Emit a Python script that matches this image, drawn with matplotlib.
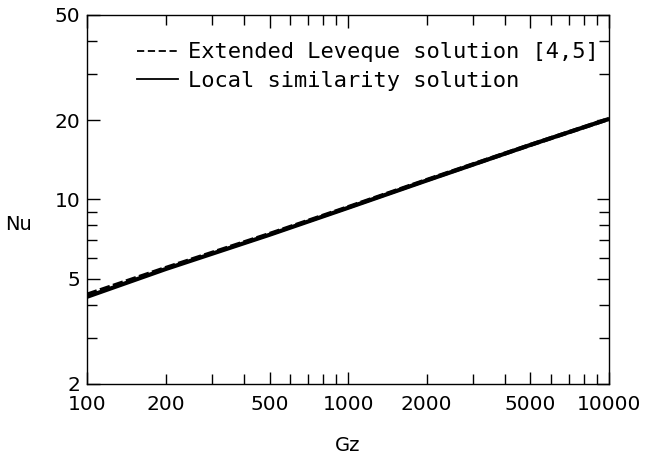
import numpy as np
import matplotlib
matplotlib.use('Agg')
import matplotlib.pyplot as plt
from matplotlib.lines import Line2D
from matplotlib.ticker import FixedLocator, FixedFormatter, NullFormatter

# Graetz number and Nusselt number for both solutions
gz = [100, 200, 500, 1000, 2000, 5000, 10000]
nu_leveque = [4.36, 5.5, 7.4, 9.35, 11.85, 16.1, 20.2]
nu_local = [4.28, 5.45, 7.35, 9.3, 11.8, 16.1, 20.2]

x_major = [100, 500, 1000, 5000, 10000]
x_minor = [200, 300, 400, 600, 700, 800, 900, 2000, 3000, 4000, 6000, 7000, 8000, 9000]
x_labels = {100: '100', 200: '200', 500: '500', 1000: '1000', 2000: '2000',
            5000: '5000', 10000: '10000'}
y_major = [2, 5, 10, 20, 50]
y_minor = [3, 4, 6, 7, 8, 9, 30, 40]

plt.rcParams['font.family'] = ['DejaVu Sans']

fig = plt.figure(figsize=(6.5, 4.58), dpi=100)
ax = fig.add_axes([0.134, 0.1616, 0.803, 0.8057])

ax.plot(gz, nu_local, color='black', lw=3.0, solid_capstyle='butt')
ax.plot(gz, nu_leveque, color='black', lw=3.0, dashes=(2.5, 0.8))

ax.set_xscale('log')
ax.set_yscale('log')
ax.set_xlim(100, 10000)
ax.set_ylim(2, 50)

ax.xaxis.set_major_locator(FixedLocator(x_major))
ax.xaxis.set_major_formatter(FixedFormatter([x_labels[v] for v in x_major]))
ax.xaxis.set_minor_locator(FixedLocator(x_minor))
ax.xaxis.set_minor_formatter(FixedFormatter([x_labels.get(v, '') for v in x_minor]))

ax.yaxis.set_major_locator(FixedLocator(y_major))
ax.yaxis.set_major_formatter(FixedFormatter([str(v) for v in y_major]))
ax.yaxis.set_minor_locator(FixedLocator(y_minor))
ax.yaxis.set_minor_formatter(NullFormatter())

ax.tick_params(which='both', direction='in', top=True, right=True,
               width=1.0, colors='black', labelsize=14.5)
ax.tick_params(which='major', length=9)
ax.tick_params(which='minor', length=7)
ax.tick_params(axis='x', which='both', pad=8)
ax.tick_params(axis='y', which='both', pad=5)

for s in ax.spines.values():
    s.set_linewidth(1.0)

ax.set_xlabel('Gz', fontsize=14, labelpad=16)
ax.set_ylabel('Nu', fontsize=14, rotation=0, ha='center', va='center')
ax.yaxis.set_label_coords(-0.132, 0.431)

handles = [Line2D([], [], color='black', lw=1.3, dashes=(4, 2)),
           Line2D([], [], color='black', lw=1.3)]
labels = ['Extended Leveque solution [4,5]', 'Local similarity solution']
ax.legend(handles, labels, loc='upper left', bbox_to_anchor=(0.096, 0.926),
          frameon=False, prop={'family': 'DejaVu Sans Mono', 'size': 15.8},
          handlelength=1.86, handletextpad=0.45, labelspacing=0.38,
          borderaxespad=0, borderpad=0)

fig.savefig('out.png', dpi=100)
